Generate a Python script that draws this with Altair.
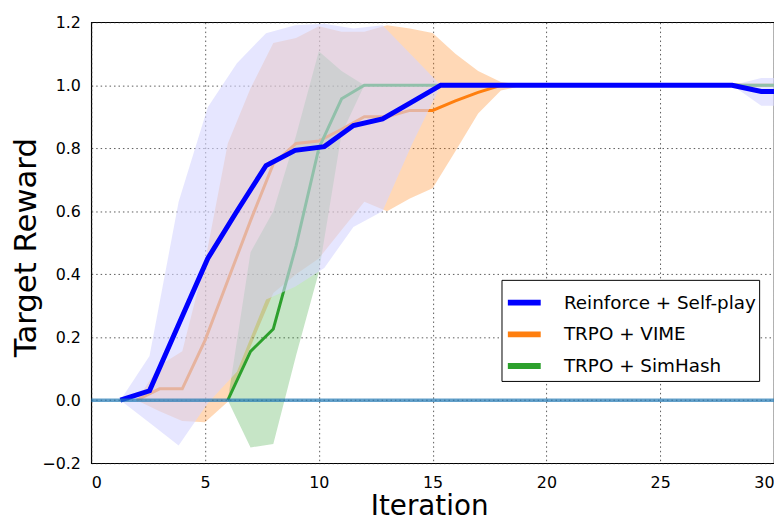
import altair as alt
import pandas as pd

series_names = ["Reinforce + Self-play", "TRPO + VIME", "TRPO + SimHash"]
series_colors = ["#0000ff", "#ff7f0e", "#2ca02c"]

# Reinforce + Self-play
rsp_x = [1.28, 2.56, 3.84, 5.12, 6.40, 7.68, 8.96, 10.24, 11.52, 12.80, 14.08, 15.36,
         16.64, 17.92, 19.20, 20.48, 21.76, 23.04, 24.32, 25.60, 26.88, 28.16, 29.44, 30.72]
rsp_mean = [0.0, 0.03, 0.24, 0.45, 0.60, 0.745, 0.793, 0.805, 0.872, 0.893, 0.946, 1.0,
            1.0, 1.0, 1.0, 1.0, 1.0, 1.0, 1.0, 1.0, 1.0, 1.0, 0.98, 0.98]
rsp_lo = [0.0, -0.072, -0.144, -0.01, 0.09, 0.32, 0.36, 0.42, 0.55, 0.60, 0.81, 1.0,
          1.0, 1.0, 1.0, 1.0, 1.0, 1.0, 1.0, 1.0, 1.0, 1.0, 0.935, 0.935]
rsp_hi = [0.0, 0.14, 0.63, 0.93, 1.07, 1.165, 1.19, 1.195, 1.18, 1.19, 1.095, 1.0,
          1.0, 1.0, 1.0, 1.0, 1.0, 1.0, 1.0, 1.0, 1.0, 1.0, 1.023, 1.023]

# TRPO + VIME
vime_x = [2, 3, 4, 5, 6, 7, 8, 9, 10, 11, 12, 13, 14, 15, 16, 17, 18, 19, 30]
vime_mean = [0.0, 0.036, 0.036, 0.19, 0.38, 0.57, 0.75, 0.815, 0.823, 0.86, 0.9, 0.9,
             0.92, 0.92, 0.95, 0.977, 1.0, 1.0, 1.0]
vime_lo = [0.0, -0.035, -0.066, -0.07, -0.005, 0.17, 0.34, 0.40, 0.45, 0.54, 0.63, 0.60,
           0.64, 0.673, 0.79, 0.91, 0.983, 1.0, 1.0]
vime_hi = [0.0, 0.11, 0.155, 0.44, 0.815, 0.99, 1.134, 1.15, 1.187, 1.17, 1.17, 1.19,
           1.18, 1.166, 1.1, 1.045, 1.01, 1.0, 1.0]

# TRPO + SimHash
sim_x = [6, 7, 8, 9, 10, 11, 12, 30]
sim_mean = [0.0, 0.155, 0.226, 0.49, 0.80, 0.957, 1.0, 1.0]
sim_lo = [0.0, -0.15, -0.139, 0.142, 0.406, 0.846, 1.0, 1.0]
sim_hi = [0.0, 0.47, 0.60, 0.84, 1.108, 1.045, 1.0, 1.0]

x_ticks = [0, 5, 10, 15, 20, 25, 30]
y_ticks = [-0.2, 0.0, 0.2, 0.4, 0.6, 0.8, 1.0, 1.2]

rows = []
for name, xs, ms, los, his in [
    (series_names[0], rsp_x, rsp_mean, rsp_lo, rsp_hi),
    (series_names[1], vime_x, vime_mean, vime_lo, vime_hi),
    (series_names[2], sim_x, sim_mean, sim_lo, sim_hi),
]:
    for a, b, c, d in zip(xs, ms, los, his):
        rows.append({"series": name, "x": a, "mean": b, "lo": c, "hi": d})
df = pd.DataFrame(rows)

FONT = "DejaVu Sans"
xscale = alt.Scale(domain=[0, 30], nice=False, zero=False)
yscale = alt.Scale(domain=[-0.2, 1.2], nice=False, zero=False)
color_scale = alt.Scale(domain=series_names, range=series_colors)

grid_kw = dict(grid=True, gridDash=[1.5, 3], gridColor="#222", gridOpacity=0.75, gridWidth=1,
               ticks=False, domain=False, labelFont=FONT, labelColor="black",
               titleFont=FONT, titleColor="black", titleFontWeight="normal")
xaxis = alt.Axis(values=x_ticks, format="d", labelFontSize=16, labelPadding=12,
                 title="Iteration", titleFontSize=28, titleBaseline="alphabetic",
                 titleAlign="center", titleX=341, titleY=52, **grid_kw)
yaxis = alt.Axis(values=y_ticks, format=".1f", labelFontSize=16, labelPadding=11,
                 title="Target Reward", titleFontSize=31, titleAngle=-90,
                 titleAlign="center", titleBaseline="middle", titleX=-65, titleY=227,
                 **grid_kw)

legend = alt.Legend(title=None, orient="none", legendX=414, legendY=260,
                    symbolType="stroke", symbolStrokeWidth=6, symbolSize=1100,
                    labelFont=FONT, labelFontSize=18.5, labelColor="black", labelOffset=20,
                    labelLimit=400, rowPadding=0, padding=3, strokeColor="black",
                    fillColor="white", cornerRadius=0, symbolOpacity=1)

base = alt.Chart(df)
X = alt.X("x:Q", scale=xscale, axis=xaxis)


def band(name, fill, opacity):
    return base.transform_filter(alt.datum.series == name).mark_area(
        opacity=opacity, clip=True).encode(
        x=X,
        y=alt.Y("lo:Q", scale=yscale, axis=yaxis),
        y2="hi:Q",
        fill=alt.value(fill),
    )


def line(name, width):
    return base.transform_filter(alt.datum.series == name).mark_line(
        strokeWidth=width, clip=True).encode(
        x=X,
        y=alt.Y("mean:Q", scale=yscale, axis=yaxis),
        color=alt.Color("series:N", scale=color_scale, legend=legend),
        order="x:Q",
    )


baseline = alt.Chart(pd.DataFrame({"v": [0.0]})).mark_rule(
    color="#1f77b4", strokeWidth=3.5, opacity=0.7).encode(
    y=alt.Y("v:Q", scale=yscale, axis=yaxis))

chart = alt.layer(
    band(series_names[1], "#ff7f0e", 0.3),
    band(series_names[2], "#2ca02c", 0.27),
    line(series_names[1], 3),
    line(series_names[2], 3),
    band(series_names[0], "#d5d5ff", 0.6),
    line(series_names[0], 5),
    baseline,
).properties(
    width=689, height=445,
    autosize=alt.AutoSizeParams(type="none"),
    padding={"left": 84, "top": 12, "right": 0, "bottom": 56},
).configure_view(stroke="black", strokeWidth=1.2)

chart.save("out.html", embed_options={"renderer": "svg", "actions": False})
